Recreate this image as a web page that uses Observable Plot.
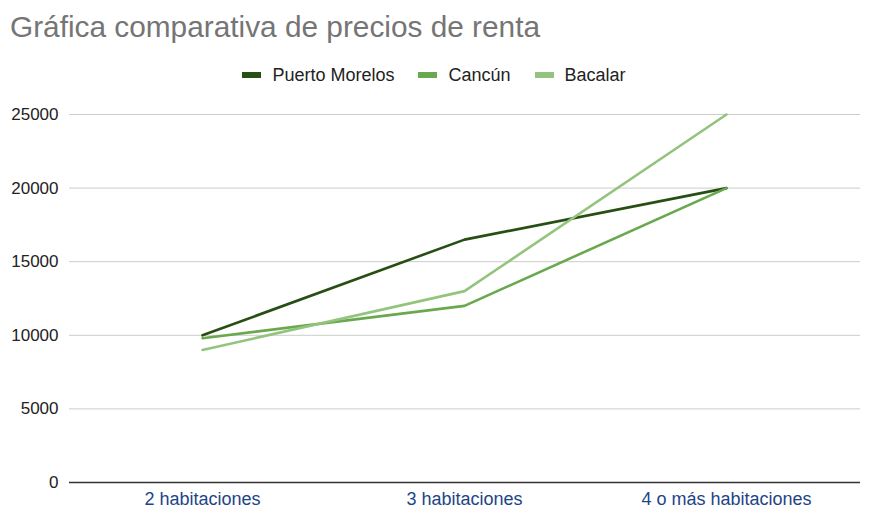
<!DOCTYPE html>
<html>
<head>
<meta charset="utf-8">
<script src="https://cdn.jsdelivr.net/npm/d3@7"></script>
<script src="https://cdn.jsdelivr.net/npm/@observablehq/plot@0.6"></script>
<style>
  html, body { margin: 0; padding: 0; background: #fff; }
  body { width: 872px; height: 522px; position: relative; overflow: hidden; font-family: "Liberation Sans", Arial, sans-serif; }
  #title { position: absolute; left: 10px; top: 10px; font-size: 29.8px; line-height: 34px; color: #757575; white-space: nowrap; }
  #legend { position: absolute; left: -2px; width: 872px; top: 63px; height: 24px; display: flex; justify-content: center; align-items: center; font-size: 18px; color: #222; }
  .item { display: flex; align-items: center; margin: 0 12px; }
  .sw { width: 19px; height: 6px; margin-right: 11px; }
  #chart { position: absolute; left: 0; top: 95px; }
</style>
</head>
<body>
<div id="title">Gráfica comparativa de precios de renta</div>
<div id="legend"></div>
<div id="chart"></div>
<script>
const categories = ["2 habitaciones", "3 habitaciones", "4 o más habitaciones"];
const seriesNames = ["Puerto Morelos", "Cancún", "Bacalar"];
const puertoMorelos = [10000, 16500, 20000];
const cancun = [9800, 12000, 20000];
const bacalar = [9000, 13000, 25000];
const colors = ["#274e13", "#6aa84f", "#93c47d"];
const yTicks = [0, 5000, 10000, 15000, 20000, 25000];

const seriesValues = [puertoMorelos, cancun, bacalar];
const data = [];
seriesNames.forEach((s, i) => {
  categories.forEach((c, j) => data.push({series: s, category: c, value: seriesValues[i][j]}));
});

const legend = document.getElementById("legend");
seriesNames.forEach((s, i) => {
  const it = document.createElement("div");
  it.className = "item";
  const sw = document.createElement("span");
  sw.className = "sw";
  sw.style.background = colors[i];
  const t = document.createElement("span");
  t.textContent = s;
  it.appendChild(sw); it.appendChild(t);
  legend.appendChild(it);
});

const chart = Plot.plot({
  width: 872,
  height: 427,
  marginTop: 19,
  marginBottom: 40,
  marginLeft: 69,
  marginRight: 12,
  style: {fontFamily: "'Liberation Sans', Arial, sans-serif", fontSize: "17px", background: "#fff"},
  x: {type: "point", domain: categories, range: [201, 726], padding: 0, label: null},
  y: {domain: [0, 25000], label: null},
  color: {domain: seriesNames, range: colors},
  marks: [
    Plot.ruleY(yTicks.filter(d => d > 0), {stroke: "#cccccc", strokeWidth: 1}),
    Plot.axisY({ticks: yTicks, tickSize: 0, tickPadding: 11, tickFormat: d => String(d), fill: "#222", fontSize: 17}),
    Plot.axisX({tickSize: 0, tickPadding: 10, fill: "#1c4587", fontSize: 18}),
    Plot.line(data, {x: "category", y: "value", z: "series", stroke: "series", strokeWidth: 2.6, strokeLinejoin: "round"}),
    Plot.ruleY([0], {stroke: "#333", strokeWidth: 1.5})
  ]
});
document.getElementById("chart").appendChild(chart);
</script>
</body>
</html>
